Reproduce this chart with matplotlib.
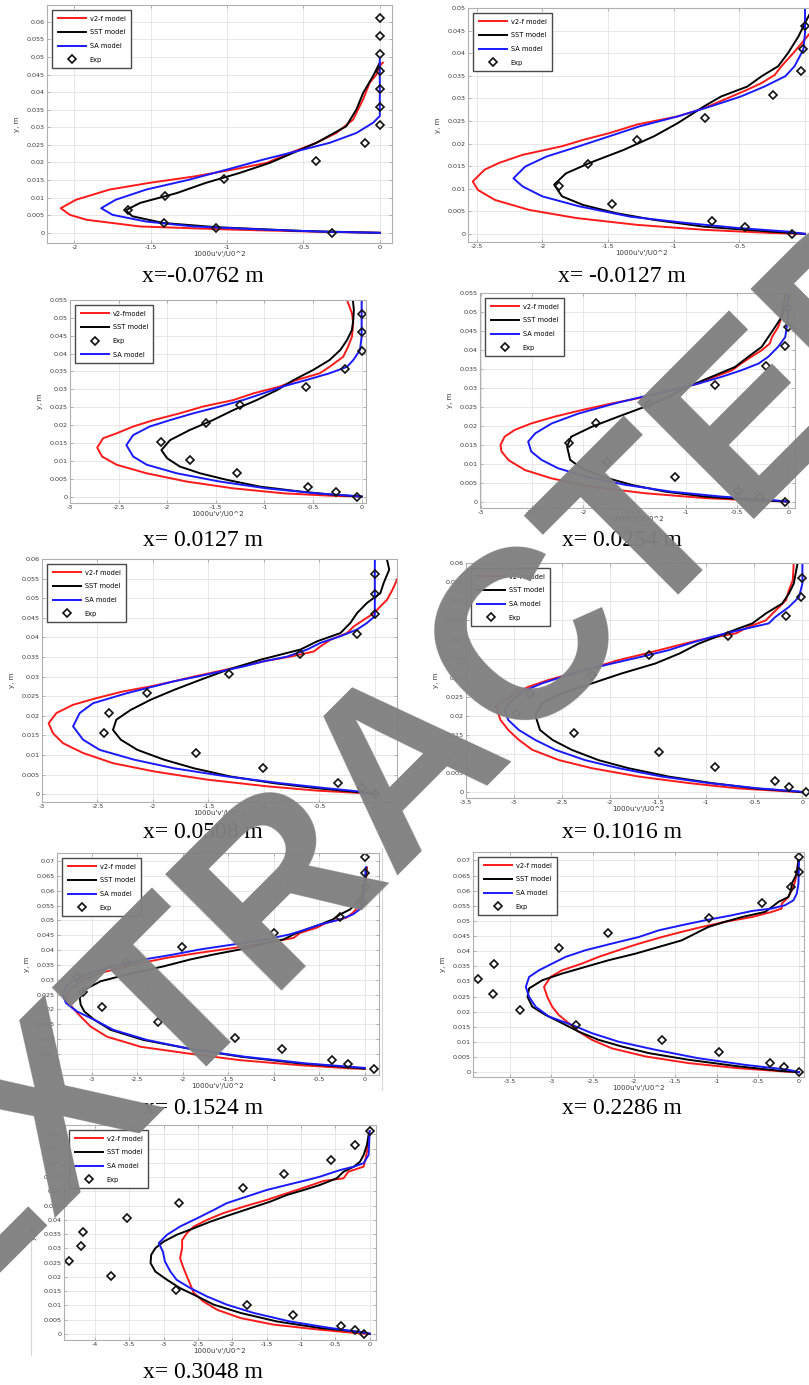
import numpy as np
import matplotlib.pyplot as plt
from matplotlib.ticker import MultipleLocator, FuncFormatter
from matplotlib.lines import Line2D

# ============
# Données (x = 1000u'v'/U0^2, y en m)
# ============

# --- x = -0.0762 m ---
P1_V2F_Y = [0, 0.0003, 0.0009, 0.0018, 0.0037, 0.0051, 0.007, 0.0094, 0.0123, 0.0142, 0.016, 0.018, 0.0199, 0.0227, 0.0256, 0.0284, 0.0322, 0.038, 0.0427, 0.045, 0.0475, 0.0484]
P1_V2F_X = [0, -0.4, -0.96, -1.57, -1.92, -2.03, -2.09, -1.99, -1.77, -1.51, -1.22, -0.96, -0.74, -0.59, -0.415, -0.284, -0.175, -0.109, -0.066, -0.022, 0.0, 0.02]
P1_SST_Y = [0, 0.0005, 0.0016, 0.0028, 0.0047, 0.0064, 0.0085, 0.0113, 0.0142, 0.017, 0.0199, 0.0227, 0.0256, 0.0303, 0.0351, 0.0398, 0.0446, 0.0465, 0.0484]
P1_SST_X = [0, -0.5, -1.07, -1.42, -1.62, -1.665, -1.57, -1.33, -1.14, -0.92, -0.72, -0.57, -0.415, -0.22, -0.153, -0.109, -0.044, -0.022, 0.0]
P1_SA_Y = [0, 0.0003, 0.0009, 0.0018, 0.0032, 0.0051, 0.007, 0.0094, 0.0123, 0.0151, 0.018, 0.0208, 0.0232, 0.0256, 0.0284, 0.0313, 0.0332, 0.0494]
P1_SA_X = [0, -0.35, -0.74, -1.22, -1.53, -1.75, -1.825, -1.73, -1.53, -1.25, -1.0, -0.765, -0.546, -0.328, -0.153, -0.044, 0, 0]
P1_EXP_Y = [0, 0.0014, 0.0028, 0.0064, 0.0104, 0.0154, 0.0205, 0.0256, 0.0307, 0.0358, 0.0408, 0.046, 0.051, 0.0561, 0.0612]
P1_EXP_X = [-0.31, -1.07, -1.416, -1.65, -1.405, -1.023, -0.42, -0.098, 0, 0, 0, 0, 0, 0, 0]

# --- x = -0.0127 m ---
P2_V2F_Y = [0, 0.0002, 0.0009, 0.002, 0.0035, 0.0053, 0.0075, 0.0097, 0.0116, 0.0142, 0.0157, 0.0175, 0.0194, 0.0208, 0.0223, 0.0242, 0.026, 0.0278, 0.0304, 0.0319, 0.0334, 0.0352, 0.0371, 0.04, 0.0422, 0.0445]
P2_V2F_X = [0, -0.26, -0.77, -1.28, -1.74, -2.1, -2.36, -2.49, -2.53, -2.44, -2.33, -2.15, -1.85, -1.69, -1.49, -1.28, -0.97, -0.77, -0.56, -0.44, -0.33, -0.23, -0.18, -0.09, -0.026, 0.04]
P2_SST_Y = [0, 0.0005, 0.0016, 0.0031, 0.0046, 0.0064, 0.0083, 0.0109, 0.0134, 0.0157, 0.0186, 0.0216, 0.0245, 0.0282, 0.0304, 0.0326, 0.0349, 0.0371, 0.04, 0.0437, 0.0467, 0.0489]
P2_SST_X = [0, -0.26, -0.77, -1.15, -1.44, -1.69, -1.85, -1.91, -1.82, -1.64, -1.38, -1.15, -0.97, -0.77, -0.64, -0.44, -0.33, -0.205, -0.13, -0.05, 0, 0.04]
P2_SA_Y = [0, 0.0005, 0.0013, 0.0024, 0.0038, 0.0061, 0.0083, 0.0105, 0.0123, 0.0149, 0.0171, 0.0194, 0.0216, 0.0238, 0.026, 0.0282, 0.0304, 0.0326, 0.0349, 0.0371, 0.0408, 0.0445, 0.052]
P2_SA_X = [0, -0.13, -0.51, -0.9, -1.33, -1.72, -2.0, -2.15, -2.22, -2.13, -1.97, -1.72, -1.49, -1.26, -0.97, -0.72, -0.49, -0.31, -0.15, -0.08, -0.013, 0, 0]
P2_EXP_Y = [0, 0.0016, 0.0029, 0.0066, 0.0105, 0.0155, 0.0207, 0.0256, 0.0308, 0.036, 0.0409, 0.046]
P2_EXP_X = [-0.10, -0.46, -0.71, -1.47, -1.87, -1.65, -1.28, -0.76, -0.24, -0.03, -0.013, 0]

# --- x = 0.0127 m ---
P3_V2F_Y = [0, 0.0002, 0.0009, 0.0023, 0.0042, 0.0065, 0.0089, 0.0112, 0.0137, 0.0163, 0.0177, 0.0196, 0.0214, 0.0233, 0.0252, 0.027, 0.0289, 0.0308, 0.0326, 0.0345, 0.0363, 0.0391, 0.0419, 0.0447, 0.0485, 0.0513, 0.055]
P3_V2F_X = [0, -0.29, -0.8, -1.32, -1.8, -2.21, -2.52, -2.67, -2.72, -2.66, -2.52, -2.35, -2.14, -1.87, -1.63, -1.32, -1.11, -0.84, -0.67, -0.43, -0.33, -0.19, -0.14, -0.10, -0.086, -0.1, -0.15]
P3_SST_Y = [0, 0.0005, 0.0014, 0.0028, 0.0047, 0.0065, 0.0084, 0.0107, 0.013, 0.0158, 0.0186, 0.0214, 0.0242, 0.027, 0.0298, 0.0326, 0.0354, 0.0382, 0.041, 0.0438, 0.0466, 0.0494, 0.0522, 0.055]
P3_SST_X = [0, -0.29, -0.63, -1.05, -1.39, -1.66, -1.87, -2.0, -2.06, -1.97, -1.77, -1.53, -1.32, -1.08, -0.87, -0.70, -0.50, -0.33, -0.22, -0.15, -0.10, -0.086, -0.08, -0.09]
P3_SA_Y = [0, 0.0002, 0.0009, 0.0023, 0.0042, 0.0065, 0.0089, 0.0112, 0.0144, 0.0172, 0.0196, 0.0214, 0.0233, 0.0252, 0.027, 0.0289, 0.0308, 0.0326, 0.0345, 0.0363, 0.0382, 0.041, 0.0447, 0.055]
P3_SA_X = [0, -0.086, -0.46, -0.98, -1.46, -1.90, -2.21, -2.35, -2.42, -2.35, -2.18, -1.97, -1.73, -1.46, -1.22, -1.01, -0.81, -0.57, -0.33, -0.15, -0.086, -0.017, 0, 0]
P3_EXP_Y = [0, 0.0014, 0.0028, 0.0065, 0.0103, 0.0154, 0.0205, 0.0256, 0.0307, 0.0358, 0.0408, 0.046, 0.051]
P3_EXP_X = [-0.05, -0.26, -0.55, -1.28, -1.77, -2.06, -1.60, -1.25, -0.57, -0.17, 0, 0, 0]

# --- x = 0.0254 m ---
P4_V2F_Y = [0, 0.0002, 0.0009, 0.0022, 0.0039, 0.0061, 0.0083, 0.0109, 0.0132, 0.0149, 0.0171, 0.0189, 0.0206, 0.0224, 0.0241, 0.0259, 0.0276, 0.0294, 0.0311, 0.0329, 0.0346, 0.0364, 0.0382, 0.0399, 0.0417, 0.0434, 0.046, 0.0487, 0.0513, 0.0548]
P4_V2F_X = [0, -0.23, -0.81, -1.40, -1.92, -2.31, -2.57, -2.73, -2.80, -2.81, -2.77, -2.67, -2.51, -2.28, -2.02, -1.72, -1.40, -1.14, -0.88, -0.72, -0.55, -0.46, -0.36, -0.26, -0.18, -0.16, -0.10, -0.065, -0.03, 0.03]
P4_SST_Y = [0, 0.0004, 0.0013, 0.0026, 0.0044, 0.0066, 0.0088, 0.011, 0.0145, 0.0171, 0.0197, 0.0224, 0.025, 0.0276, 0.0303, 0.0329, 0.0355, 0.0382, 0.0408, 0.0434, 0.046, 0.0487, 0.0513, 0.0548]
P4_SST_X = [0, -0.33, -0.81, -1.20, -1.53, -1.82, -2.02, -2.13, -2.16, -2.12, -1.92, -1.66, -1.40, -1.17, -0.98, -0.75, -0.52, -0.39, -0.26, -0.195, -0.13, -0.065, -0.05, -0.026]
P4_SA_Y = [0, 0.0004, 0.0013, 0.0026, 0.0044, 0.0066, 0.0088, 0.011, 0.0132, 0.0158, 0.018, 0.0206, 0.0232, 0.0259, 0.0276, 0.0294, 0.0311, 0.0329, 0.0346, 0.0364, 0.0382, 0.0408, 0.0434, 0.0478, 0.0548]
P4_SA_X = [0, -0.16, -0.65, -1.14, -1.59, -1.98, -2.25, -2.41, -2.51, -2.54, -2.47, -2.31, -2.05, -1.69, -1.43, -1.14, -0.88, -0.65, -0.46, -0.29, -0.195, -0.10, -0.03, -0.006, 0]
P4_EXP_Y = [0, 0.0013, 0.0028, 0.0066, 0.0104, 0.0154, 0.0206, 0.0256, 0.0307, 0.0358, 0.041, 0.046, 0.0511]
P4_EXP_X = [-0.03, -0.28, -0.49, -1.11, -1.77, -2.14, -1.88, -1.36, -0.72, -0.22, -0.03, 0, 0]

# --- x = 0.0508 m ---
P5_V2F_Y = [0, 0.0002, 0.0009, 0.002, 0.0037, 0.0058, 0.0079, 0.0105, 0.013, 0.0155, 0.0181, 0.0207, 0.0228, 0.0245, 0.0262, 0.0275, 0.0288, 0.03, 0.0313, 0.0326, 0.0339, 0.0351, 0.0364, 0.0377, 0.0394, 0.0411, 0.0428, 0.0445, 0.0462, 0.0479, 0.0496, 0.0522, 0.0547, 0.058]
P5_V2F_X = [0, -0.07, -0.52, -0.97, -1.51, -1.99, -2.36, -2.63, -2.81, -2.90, -2.94, -2.87, -2.72, -2.51, -2.27, -2.02, -1.81, -1.63, -1.42, -1.21, -1.0, -0.76, -0.55, -0.49, -0.40, -0.25, -0.19, -0.10, -0.006, 0.05, 0.11, 0.16, 0.2, 0.25]
P5_SST_Y = [0, 0.0004, 0.0015, 0.0028, 0.0045, 0.0066, 0.0088, 0.0113, 0.0139, 0.0164, 0.019, 0.0215, 0.0241, 0.0266, 0.0292, 0.0317, 0.0343, 0.0369, 0.039, 0.0411, 0.0437, 0.0462, 0.0488, 0.0513, 0.0539, 0.0573, 0.0598]
P5_SST_X = [0, -0.10, -0.52, -0.91, -1.30, -1.63, -1.90, -2.14, -2.29, -2.36, -2.33, -2.20, -2.02, -1.81, -1.57, -1.33, -1.03, -0.67, -0.52, -0.31, -0.22, -0.16, -0.07, 0.05, 0.08, 0.13, 0.11]
P5_SA_Y = [0, 0.0004, 0.0015, 0.0028, 0.0045, 0.0066, 0.0088, 0.0113, 0.0139, 0.0173, 0.0207, 0.0232, 0.0258, 0.0275, 0.0288, 0.03, 0.0313, 0.0326, 0.0339, 0.0351, 0.0369, 0.0386, 0.0403, 0.042, 0.0437, 0.0454, 0.06]
P5_SA_X = [0, -0.04, -0.43, -0.85, -1.33, -1.81, -2.17, -2.48, -2.63, -2.72, -2.66, -2.54, -2.23, -1.99, -1.81, -1.60, -1.39, -1.18, -1.0, -0.79, -0.61, -0.49, -0.31, -0.16, -0.07, 0, 0]
P5_EXP_Y = [0, 0.0015, 0.0028, 0.0066, 0.0105, 0.0156, 0.0207, 0.0258, 0.0307, 0.0358, 0.0409, 0.046, 0.0511, 0.0563]
P5_EXP_X = [0, -0.12, -0.33, -1.01, -1.61, -2.44, -2.40, -2.05, -1.31, -0.67, -0.16, 0, 0, 0]

# --- x = 0.1016 m ---
P6_V2F_Y = [0, 0.0002, 0.001, 0.0024, 0.0041, 0.0063, 0.0084, 0.0111, 0.0137, 0.0163, 0.0189, 0.0224, 0.0241, 0.0259, 0.0276, 0.0294, 0.0311, 0.0328, 0.0346, 0.0363, 0.0381, 0.0398, 0.0416, 0.0433, 0.045, 0.0468, 0.0485, 0.0503, 0.0529, 0.0555, 0.06]
P6_V2F_X = [0, -0.14, -0.66, -1.18, -1.70, -2.19, -2.53, -2.81, -2.95, -3.06, -3.14, -3.19, -3.09, -2.99, -2.85, -2.64, -2.40, -2.15, -1.91, -1.63, -1.35, -1.08, -0.69, -0.56, -0.38, -0.31, -0.24, -0.17, -0.14, -0.10, -0.09]
P6_SST_Y = [0, 0.0002, 0.001, 0.0024, 0.0041, 0.0063, 0.0084, 0.0111, 0.0137, 0.0163, 0.0202, 0.0233, 0.0259, 0.0285, 0.0311, 0.0337, 0.0363, 0.0389, 0.0416, 0.0442, 0.0468, 0.0494, 0.052, 0.0546, 0.06]
P6_SST_X = [0, -0.07, -0.49, -0.94, -1.39, -1.81, -2.12, -2.40, -2.60, -2.73, -2.78, -2.71, -2.50, -2.19, -1.88, -1.53, -1.28, -1.08, -0.80, -0.52, -0.38, -0.21, -0.14, -0.09, -0.05]
P6_SA_Y = [0, 0.0002, 0.001, 0.0024, 0.0041, 0.0063, 0.0084, 0.0111, 0.0137, 0.0163, 0.0189, 0.0215, 0.0241, 0.0267, 0.0285, 0.0302, 0.032, 0.0337, 0.0355, 0.0372, 0.0389, 0.0407, 0.0424, 0.0442, 0.0459, 0.0485, 0.0511, 0.0546, 0.06]
P6_SA_X = [0, -0.03, -0.45, -0.97, -1.46, -1.91, -2.26, -2.57, -2.78, -2.95, -3.06, -3.10, -3.02, -2.88, -2.71, -2.50, -2.26, -1.98, -1.67, -1.39, -1.18, -0.94, -0.66, -0.35, -0.28, -0.14, -0.035, 0, 0]
P6_EXP_Y = [0, 0.0015, 0.003, 0.0067, 0.0105, 0.0156, 0.0206, 0.0257, 0.0308, 0.0359, 0.0409, 0.0461, 0.0511, 0.0562]
P6_EXP_X = [0.035, -0.14, -0.29, -0.91, -1.49, -2.38, -2.98, -2.83, -2.19, -1.60, -0.77, -0.17, -0.01, 0]

# --- x = 0.1524 m ---
P7_V2F_Y = [0, 0.0001, 0.0012, 0.0029, 0.0052, 0.0074, 0.0108, 0.0142, 0.0176, 0.0199, 0.0233, 0.0266, 0.0295, 0.0323, 0.0351, 0.0374, 0.0391, 0.0407, 0.0424, 0.0441, 0.0458, 0.0475, 0.0492, 0.0509, 0.0526, 0.0549, 0.0582, 0.0616, 0.065, 0.0678]
P7_V2F_X = [0, -0.13, -0.71, -1.37, -1.95, -2.46, -2.83, -3.01, -3.12, -3.19, -3.28, -3.25, -3.12, -2.90, -2.54, -2.17, -1.81, -1.44, -1.08, -0.78, -0.71, -0.53, -0.42, -0.20, -0.13, -0.055, -0.018, 0, 0.018, 0.025]
P7_SST_Y = [0, 0.0003, 0.0018, 0.0041, 0.0069, 0.0097, 0.0131, 0.0165, 0.0193, 0.0216, 0.0238, 0.0266, 0.0295, 0.0323, 0.0345, 0.0368, 0.0385, 0.0402, 0.0419, 0.0436, 0.0453, 0.047, 0.0486, 0.0503, 0.052, 0.0537, 0.056, 0.0582, 0.0616, 0.065, 0.0678]
P7_SST_X = [0, -0.09, -0.71, -1.37, -1.95, -2.43, -2.79, -2.97, -3.08, -3.12, -3.13, -3.08, -2.90, -2.54, -2.21, -1.92, -1.66, -1.37, -1.15, -0.89, -0.78, -0.64, -0.49, -0.35, -0.27, -0.16, -0.09, -0.036, -0.011, 0.011, 0.018]
P7_SA_Y = [0.0003, 0.0018, 0.0041, 0.0069, 0.0097, 0.0131, 0.0165, 0.0193, 0.0221, 0.0249, 0.0278, 0.03, 0.0323, 0.0345, 0.0368, 0.0385, 0.0402, 0.0419, 0.0436, 0.0453, 0.047, 0.0486, 0.0503, 0.052, 0.0537, 0.056, 0.0616, 0.0678]
P7_SA_X = [0, -0.64, -1.33, -1.95, -2.39, -2.76, -2.97, -3.16, -3.28, -3.32, -3.28, -3.19, -3.01, -2.76, -2.43, -2.10, -1.81, -1.44, -1.08, -0.82, -0.64, -0.49, -0.27, -0.13, -0.055, -0.018, 0, 0.011]
P7_EXP_Y = [0, 0.0016, 0.0029, 0.0067, 0.0105, 0.0156, 0.0207, 0.0257, 0.0308, 0.0358, 0.041, 0.0459, 0.0511, 0.0561, 0.0612, 0.0661, 0.0712]
P7_EXP_X = [0.1, -0.18, -0.36, -0.91, -1.42, -2.27, -2.89, -3.09, -3.16, -2.62, -2.01, -1.0, -0.27, -0.02, 0.007, 0, 0]

# --- x = 0.2286 m ---
P8_V2F_Y = [0, 0.0002, 0.0013, 0.003, 0.0052, 0.0079, 0.0107, 0.0134, 0.0162, 0.0189, 0.0216, 0.0249, 0.0282, 0.0315, 0.0337, 0.0359, 0.0381, 0.0403, 0.0425, 0.0447, 0.0464, 0.048, 0.0497, 0.0513, 0.053, 0.0541, 0.0557, 0.0579, 0.0601, 0.0623, 0.0656, 0.07]
P8_V2F_X = [0, -0.17, -0.73, -1.34, -1.86, -2.27, -2.51, -2.67, -2.79, -2.91, -2.99, -3.05, -3.09, -3.01, -2.87, -2.63, -2.43, -2.19, -1.94, -1.66, -1.42, -1.18, -0.90, -0.57, -0.33, -0.21, -0.21, -0.13, -0.089, -0.056, -0.028, -0.008]
P8_SST_Y = [0, 0.0004, 0.0019, 0.0041, 0.0063, 0.0085, 0.0107, 0.0134, 0.0162, 0.0189, 0.0216, 0.0249, 0.0277, 0.0304, 0.0326, 0.0348, 0.037, 0.0392, 0.0414, 0.0436, 0.0458, 0.048, 0.0497, 0.0513, 0.053, 0.0546, 0.0563, 0.0579, 0.0601, 0.0623, 0.0656, 0.07]
P8_SST_X = [0, -0.21, -0.73, -1.34, -1.82, -2.15, -2.43, -2.67, -2.87, -3.07, -3.23, -3.29, -3.27, -3.11, -2.87, -2.59, -2.31, -1.98, -1.70, -1.42, -1.26, -1.10, -0.90, -0.69, -0.41, -0.33, -0.25, -0.13, -0.097, -0.089, -0.028, -0.008]
P8_SA_Y = [0, 0.0008, 0.0024, 0.0046, 0.0074, 0.0101, 0.0129, 0.0156, 0.0184, 0.0216, 0.0249, 0.0282, 0.0315, 0.0337, 0.0359, 0.0381, 0.0403, 0.0425, 0.0447, 0.0469, 0.0486, 0.0502, 0.0519, 0.0533, 0.0541, 0.0552, 0.0568, 0.059, 0.0623, 0.07]
P8_SA_X = [0, -0.13, -0.65, -1.22, -1.74, -2.19, -2.51, -2.75, -3.03, -3.19, -3.27, -3.31, -3.27, -3.15, -2.99, -2.83, -2.59, -2.27, -1.94, -1.70, -1.42, -1.14, -0.81, -0.57, -0.33, -0.17, -0.069, -0.028, -0.008, 0]
P8_EXP_Y = [0, 0.0016, 0.003, 0.0068, 0.0105, 0.0156, 0.0205, 0.0257, 0.0308, 0.0358, 0.0409, 0.0459, 0.051, 0.056, 0.0612, 0.0663, 0.0713]
P8_EXP_X = [0, -0.18, -0.35, -0.97, -1.66, -2.70, -3.375, -3.71, -3.89, -3.69, -2.91, -2.32, -1.09, -0.45, -0.10, 0, 0]

# --- x = 0.3048 m ---
P9_V2F_Y = [0, 0.0002, 0.0015, 0.0033, 0.0056, 0.0085, 0.0114, 0.0144, 0.0173, 0.0202, 0.0231, 0.0266, 0.0301, 0.033, 0.0354, 0.0377, 0.04, 0.0424, 0.0447, 0.047, 0.0494, 0.0517, 0.0537, 0.0546, 0.0569, 0.0587, 0.061, 0.0639, 0.0674, 0.0712]
P9_V2F_X = [0, -0.14, -0.72, -1.40, -1.88, -2.22, -2.42, -2.56, -2.61, -2.66, -2.71, -2.76, -2.73, -2.73, -2.66, -2.56, -2.37, -2.13, -1.83, -1.50, -1.20, -0.91, -0.67, -0.38, -0.31, -0.087, -0.063, -0.039, -0.015, 0]
P9_SST_Y = [0, 0.0006, 0.0021, 0.0044, 0.0074, 0.0103, 0.0132, 0.0161, 0.019, 0.0219, 0.0249, 0.0278, 0.0301, 0.0324, 0.0348, 0.0371, 0.0394, 0.0418, 0.0441, 0.0464, 0.0488, 0.0505, 0.0523, 0.0546, 0.0569, 0.0587, 0.0604, 0.0628, 0.0663, 0.0698]
P9_SST_X = [0, -0.087, -0.72, -1.35, -1.88, -2.27, -2.51, -2.76, -2.95, -3.12, -3.19, -3.18, -3.12, -3.0, -2.81, -2.56, -2.32, -2.03, -1.74, -1.45, -1.20, -0.96, -0.72, -0.48, -0.38, -0.23, -0.14, -0.087, -0.039, -0.015]
P9_SA_Y = [0.0002, 0.0021, 0.0044, 0.0074, 0.0103, 0.0132, 0.0161, 0.019, 0.0219, 0.0254, 0.0289, 0.0319, 0.0348, 0.0377, 0.0406, 0.0435, 0.0459, 0.0482, 0.0505, 0.0523, 0.054, 0.0552, 0.0564, 0.0575, 0.0587, 0.0599, 0.0628, 0.0712]
P9_SA_X = [0, -0.57, -1.16, -1.69, -2.08, -2.37, -2.61, -2.81, -2.90, -2.98, -3.01, -3.07, -2.95, -2.76, -2.51, -2.27, -2.08, -1.79, -1.50, -1.20, -0.91, -0.72, -0.57, -0.43, -0.23, -0.087, -0.015, 0]
P9_EXP_Y = [0, 0.0015, 0.0029, 0.0065, 0.0103, 0.0155, 0.0205, 0.0257, 0.0307, 0.0357, 0.0408, 0.0459, 0.0511, 0.056, 0.0611, 0.0663, 0.0713]
P9_EXP_X = [-0.08, -0.22, -0.42, -1.12, -1.79, -2.82, -3.76, -4.37, -4.20, -4.18, -3.53, -2.78, -1.85, -1.25, -0.56, -0.21, 0]

TITRES = ["x=-0.0762 m", "x= -0.0127 m", "x= 0.0127 m", "x= 0.0254 m", "x= 0.0508 m",
          "x= 0.1016 m", "x= 0.1524 m", "x= 0.2286 m", "x= 0.3048 m"]
LABELS = ["v2-f model", "SST model", "SA model", "Exp"]
LABELS_P3 = ["v2-fmodel", "SST model", "Exp", "SA model"]

# ============
# Mise en page (pixels)
# ============
W, H = 809, 1385
fig = plt.figure(figsize=(W / 100, H / 100), dpi=100)

# cadre [gauche, haut, droite, bas], xlim, ylim, centre du titre
cadres = [
    ([47, 5, 392, 243], (-2.18, 0.08), (-0.0029, 0.0648), (203, 276)),
    ([468, 8, 815, 242], (-2.566, 0.076), (-0.0018, 0.05), (622, 277)),
    ([70, 300, 366, 503], (-3.0, 0.045), (-0.0018, 0.055), (203, 540)),
    ([480, 293, 795, 508], (-3.01, 0.065), (-0.0017, 0.055), (622, 540)),
    ([42, 559, 397, 802], (-3.0, 0.2), (-0.002, 0.06), (203, 833)),
    ([466, 563, 812, 798], (-3.5, 0.1), (-0.0015, 0.06), (622, 833)),
    ([57, 853, 379, 1075], (-3.38, 0.157), (-0.0021, 0.0727), (203, 1109)),
    ([473, 852, 804, 1077], (-3.95, 0.06), (-0.0016, 0.0728), (622, 1109)),
    ([64, 1125, 376, 1340], (-4.45, 0.093), (-0.0021, 0.0733), (203, 1372)),
]

donnees = [
    (P1_V2F_X, P1_V2F_Y, P1_SST_X, P1_SST_Y, P1_SA_X, P1_SA_Y, P1_EXP_X, P1_EXP_Y),
    (P2_V2F_X, P2_V2F_Y, P2_SST_X, P2_SST_Y, P2_SA_X, P2_SA_Y, P2_EXP_X, P2_EXP_Y),
    (P3_V2F_X, P3_V2F_Y, P3_SST_X, P3_SST_Y, P3_SA_X, P3_SA_Y, P3_EXP_X, P3_EXP_Y),
    (P4_V2F_X, P4_V2F_Y, P4_SST_X, P4_SST_Y, P4_SA_X, P4_SA_Y, P4_EXP_X, P4_EXP_Y),
    (P5_V2F_X, P5_V2F_Y, P5_SST_X, P5_SST_Y, P5_SA_X, P5_SA_Y, P5_EXP_X, P5_EXP_Y),
    (P6_V2F_X, P6_V2F_Y, P6_SST_X, P6_SST_Y, P6_SA_X, P6_SA_Y, P6_EXP_X, P6_EXP_Y),
    (P7_V2F_X, P7_V2F_Y, P7_SST_X, P7_SST_Y, P7_SA_X, P7_SA_Y, P7_EXP_X, P7_EXP_Y),
    (P8_V2F_X, P8_V2F_Y, P8_SST_X, P8_SST_Y, P8_SA_X, P8_SA_Y, P8_EXP_X, P8_EXP_Y),
    (P9_V2F_X, P9_V2F_Y, P9_SST_X, P9_SST_Y, P9_SA_X, P9_SA_Y, P9_EXP_X, P9_EXP_Y),
]


def fmt(v, pos):
    if abs(v) < 1e-12:
        return "0"
    return f"{v:g}"


for i, (cadre, d) in enumerate(zip(cadres, donnees)):
    (l, t, r, b), xl, yl, (cx, cy) = cadre
    ax = fig.add_axes([l / W, 1 - b / H, (r - l) / W, (b - t) / H])

    lr, = ax.plot(d[0], d[1], color='#ff1a1a', lw=1.4)
    lk, = ax.plot(d[2], d[3], color='black', lw=1.4)
    lb, = ax.plot(d[4], d[5], color='#1a1aff', lw=1.4)
    le, = ax.plot(d[6], d[7], ls='none', marker='D', ms=4.2, mfc='none',
                  mec='#111111', mew=1.2)

    ax.set_xlim(*xl)
    ax.set_ylim(*yl)
    ax.xaxis.set_major_locator(MultipleLocator(0.5))
    ax.yaxis.set_major_locator(MultipleLocator(0.005))
    ax.xaxis.set_major_formatter(FuncFormatter(fmt))
    ax.yaxis.set_major_formatter(FuncFormatter(fmt))
    ax.grid(True, color='#e3e3e3', lw=0.6)
    ax.set_axisbelow(True)
    ax.tick_params(direction='in', length=2, width=0.5, labelsize=4.6,
                   labelcolor='#3a3a3a', color='#999999', pad=1.5,
                   top=True, right=True)
    for s in ax.spines.values():
        s.set_color('#b0b0b0')
        s.set_linewidth(0.8)
    ax.set_xlabel("1000u'v'/U0^2", fontsize=5, color='#3a3a3a', labelpad=1)
    ax.set_ylabel("y, m", fontsize=5, color='#3a3a3a', labelpad=5)

    if i == 2:
        handles = [lr, lk, le, lb]
        labels = LABELS_P3
    else:
        handles = [lr, lk, lb, le]
        labels = LABELS
    leg = ax.legend(handles, labels, loc='upper left', fontsize=4.8,
                    handlelength=4.2, handletextpad=0.6, labelspacing=1.15,
                    borderaxespad=0.8, borderpad=0.8, fancybox=False,
                    framealpha=1, edgecolor='#4a4a4a')
    leg.get_frame().set_linewidth(1.0)

    fig.text(cx / W, 1 - cy / H, TITRES[i], ha='center', va='center',
             family='Liberation Serif', fontsize=17)

# bords clairs des images collées
for (xb, y0, y1) in [(382, 848, 1090), (31, 1232, 1355)]:
    fig.add_artist(Line2D([xb / W, xb / W], [1 - y0 / H, 1 - y1 / H],
                          transform=fig.transFigure, color='#d6d6d6', lw=0.8))

# filigrane
fig.text(412 / W, 1 - 757 / H, "EXTRACTED", rotation=45, rotation_mode='anchor',
         ha='center', va='center', family='Liberation Sans', weight='bold',
         fontsize=173, color='#808080', alpha=0.97, zorder=100)

fig.savefig("out.png", dpi=100)
